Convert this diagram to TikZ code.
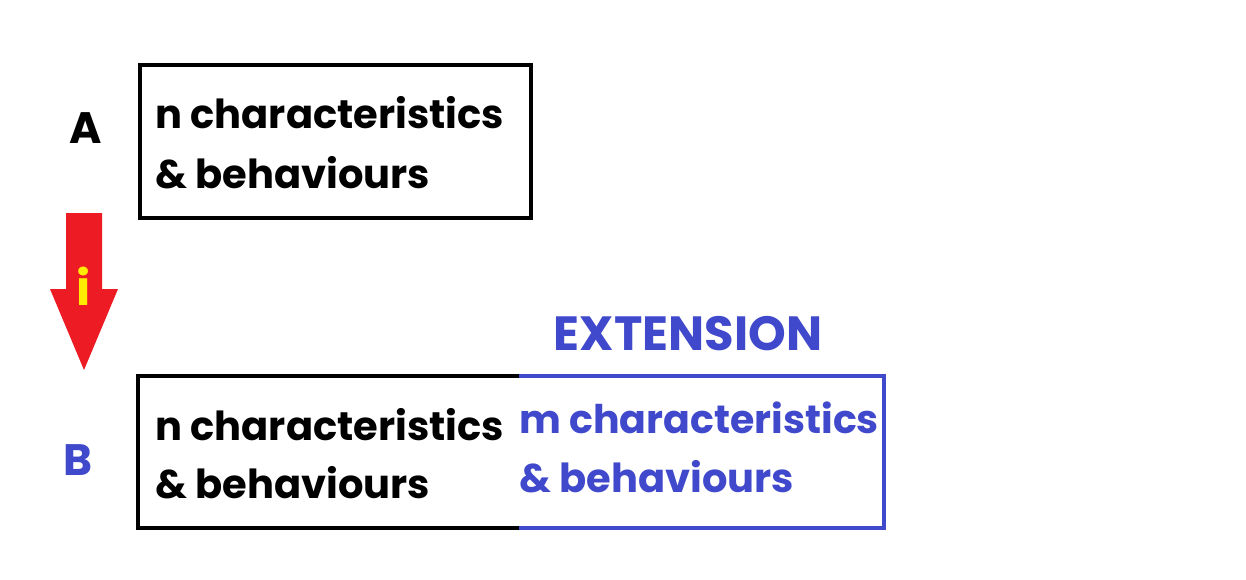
\documentclass[tikz,border=0pt]{standalone}
\usepackage{fontspec}
\setmainfont{Poppins}
\definecolor{extblue}{RGB}{64,72,204}
\definecolor{arrowred}{RGB}{237,28,36}
\definecolor{iyellow}{RGB}{255,236,0}
\tikzset{
  lbl/.style={font=\fontsize{44}{50}\selectfont\bfseries, inner sep=0pt},
  body/.style={font=\fontsize{40}{59}\selectfont\bfseries, inner sep=0pt, align=left, anchor=base west},
  frame/.style={line width=4pt},
}
\begin{document}
\begin{tikzpicture}[x=1pt,y=-1pt]
\useasboundingbox (0,0) rectangle (1246,579);
% Box A
\node[draw, frame, minimum width=391pt, minimum height=153pt, anchor=north west, inner sep=0pt] (boxA) at (138,63) {};
\node[body] (txtA1) at (155,128) {n characteristics};
\node[body] (txtA2) at (155,188) {\& behaviours};
\node[lbl] (labA) at (86,128) {A};
% Box B parts
\node[minimum width=381pt, minimum height=152pt, anchor=north west, inner sep=0pt] (boxBn) at (138,376) {};
\node[minimum width=365pt, minimum height=152pt, anchor=north west, inner sep=0pt] (boxBm) at (519,376) {};
\draw[frame] (boxBn.north east) -- (boxBn.north west) -- (boxBn.south west) -- (boxBn.south east);
\draw[frame, extblue] (boxBm.north west) -- (boxBm.north east) -- (boxBm.south east) -- (boxBm.south west);
\node[body] (txtB1) at (155,440) {n characteristics};
\node[body] (txtB2) at (155,498) {\& behaviours};
\node[body, text=extblue, font=\fontsize{39.5}{59}\selectfont\bfseries] (txtM1) at (519,433) {m characteristics};
\node[body, text=extblue] (txtM2) at (519,492) {\& behaviours};
\node[lbl, text=extblue] (labB) at (78,460) {B};
\node[lbl, text=extblue, anchor=base, font=\fontsize{48}{50}\selectfont\bfseries] (ext) at (688,350) {EXTENSION};
% arrow
\fill[arrowred] (66,213) -- (102,213) -- (102,289) -- (118,289) -- (84,370) -- (50,289) -- (66,289) -- cycle;
\node[lbl, text=iyellow, anchor=base, font=\fontsize{48}{48}\selectfont\bfseries] (iarr) at (84,305) {i};
\end{tikzpicture}
\end{document}
